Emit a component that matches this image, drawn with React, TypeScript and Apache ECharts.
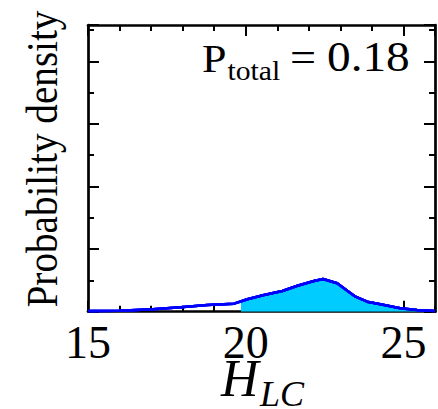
import React, { useEffect, useRef } from "react";
import * as echarts from "echarts";

// H_LC sample positions and probability density (arbitrary units of the major y tick)
const xValues = [15, 16, 17.05, 17.94, 18.78, 19.63, 20.05, 20.58, 21.16, 21.64, 22.16, 22.45, 22.9, 23.22, 23.48, 23.85, 24.27, 24.9, 25.43, 26];
const densityValues = [0.01, 0.016, 0.038, 0.07, 0.107, 0.128, 0.198, 0.267, 0.33, 0.415, 0.49, 0.522, 0.454, 0.335, 0.24, 0.16, 0.118, 0.054, 0.027, 0.011];
// Shaded region starts at H_LC = 19.85
const shadeStartX = 19.85;
const shadeStartY = 0.175;

const xMin = 15;
const xMax = 26;
const yMin = 0;
const yMax = 4.58;
const xMajor = 5;
const xMinor = 1;
const yMajor = 1;
const yMinor = 0.5;

export default function App() {
  const ref = useRef<HTMLDivElement>(null);
  useEffect(() => {
    if (!ref.current) return;
    const chart = echarts.init(ref.current, null, { renderer: "svg" });
    const lineData = xValues.map((x, i) => [x, densityValues[i]]);
    const shadeData = [[shadeStartX, shadeStartY], ...lineData.filter((p) => p[0] > shadeStartX)];

    const black = "#000";
    const gridPos = { left: 88, right: 3, top: 25, bottom: 97.3 };
    // grid 0: bottom/left major, grid 1: top/right major, grid 2: bottom/left minor, grid 3: top/right minor
    const specs = [
      { xp: "bottom", yp: "left", xi: xMajor, yi: yMajor, len: 11, main: true, labels: true },
      { xp: "top", yp: "right", xi: xMajor, yi: yMajor, len: 11, main: true, labels: false },
      { xp: "bottom", yp: "left", xi: xMinor, yi: yMinor, len: 6, main: false, labels: false },
      { xp: "top", yp: "right", xi: xMinor, yi: yMinor, len: 6, main: false, labels: false },
    ];
    const xAxis = specs.map((s, g) => ({
      type: "value",
      gridIndex: g,
      position: s.xp,
      min: xMin,
      max: xMax,
      interval: s.xi,
      axisLine: { show: s.main, onZero: false, lineStyle: { color: black, width: 2.7 } },
      axisTick: { show: true, inside: true, length: s.len, lineStyle: { color: black, width: 2 } },
      axisLabel: s.labels
        ? { show: true, color: black, fontSize: 46, fontFamily: "Times New Roman" }
        : { show: false },
      splitLine: { show: false },
    }));
    const yAxis = specs.map((s, g) => ({
      type: "value",
      gridIndex: g,
      position: s.yp,
      min: yMin,
      max: yMax,
      interval: s.yi,
      axisLine: { show: s.main, onZero: false, lineStyle: { color: black, width: 2.7 } },
      axisTick: { show: true, inside: true, length: s.len, lineStyle: { color: black, width: 2 } },
      axisLabel: { show: false },
      splitLine: { show: false },
    }));

    const txt = (text: string, x: number, y: number, size: number, extra: any = {}, styleExtra: any = {}) => ({
      type: "text",
      x,
      y,
      z: 10,
      ...extra,
      style: {
        text,
        fill: black,
        fontFamily: "Times New Roman",
        fontSize: size,
        align: "left",
        verticalAlign: "middle",
        ...styleExtra,
      },
    });

    // copies of the curve (drawn exactly on top of it) so that every helper axis is bound to data
    const twin = (g: number) => ({
      type: "line",
      xAxisIndex: g,
      yAxisIndex: g,
      data: lineData,
      symbol: "none",
      lineStyle: { color: "#0000FF", width: 2.5 },
      silent: true,
    });

    chart.setOption({
      animation: false,
      grid: [gridPos, gridPos, gridPos, gridPos],
      xAxis,
      yAxis,
      series: [
        {
          type: "line",
          data: shadeData,
          xAxisIndex: 0,
          yAxisIndex: 0,
          symbol: "none",
          lineStyle: { width: 0 },
          areaStyle: { color: "#00CCFF", opacity: 1 },
        },
        {
          type: "line",
          data: lineData,
          xAxisIndex: 0,
          yAxisIndex: 0,
          symbol: "none",
          lineStyle: { color: "#0000FF", width: 2.5 },
        },
        twin(1),
        twin(2),
        twin(3),
      ],
      graphic: [
        txt("Probability density", 41.8, 159, 44, { rotation: Math.PI / 2, scaleX: 0.89 }, { align: "center" }),
        txt("P", 202, 58.2, 40, { scaleX: 1.1 }),
        txt("total", 227.5, 70.9, 27, { scaleX: 1.1 }),
        txt("=", 290, 57.5, 42, { scaleX: 1.1 }),
        txt("0.18", 327, 57.2, 43, { scaleX: 1.1 }),
        txt("H", 221, 378.5, 52, {}, { fontStyle: "italic" }),
        txt("LC", 260, 394, 36, {}, { fontStyle: "italic" }),
      ],
    });
    return () => chart.dispose();
  }, []);
  return <div ref={ref} style={{ position: "absolute", left: 0, top: 0, width: 438, height: 409 }} />;
}
